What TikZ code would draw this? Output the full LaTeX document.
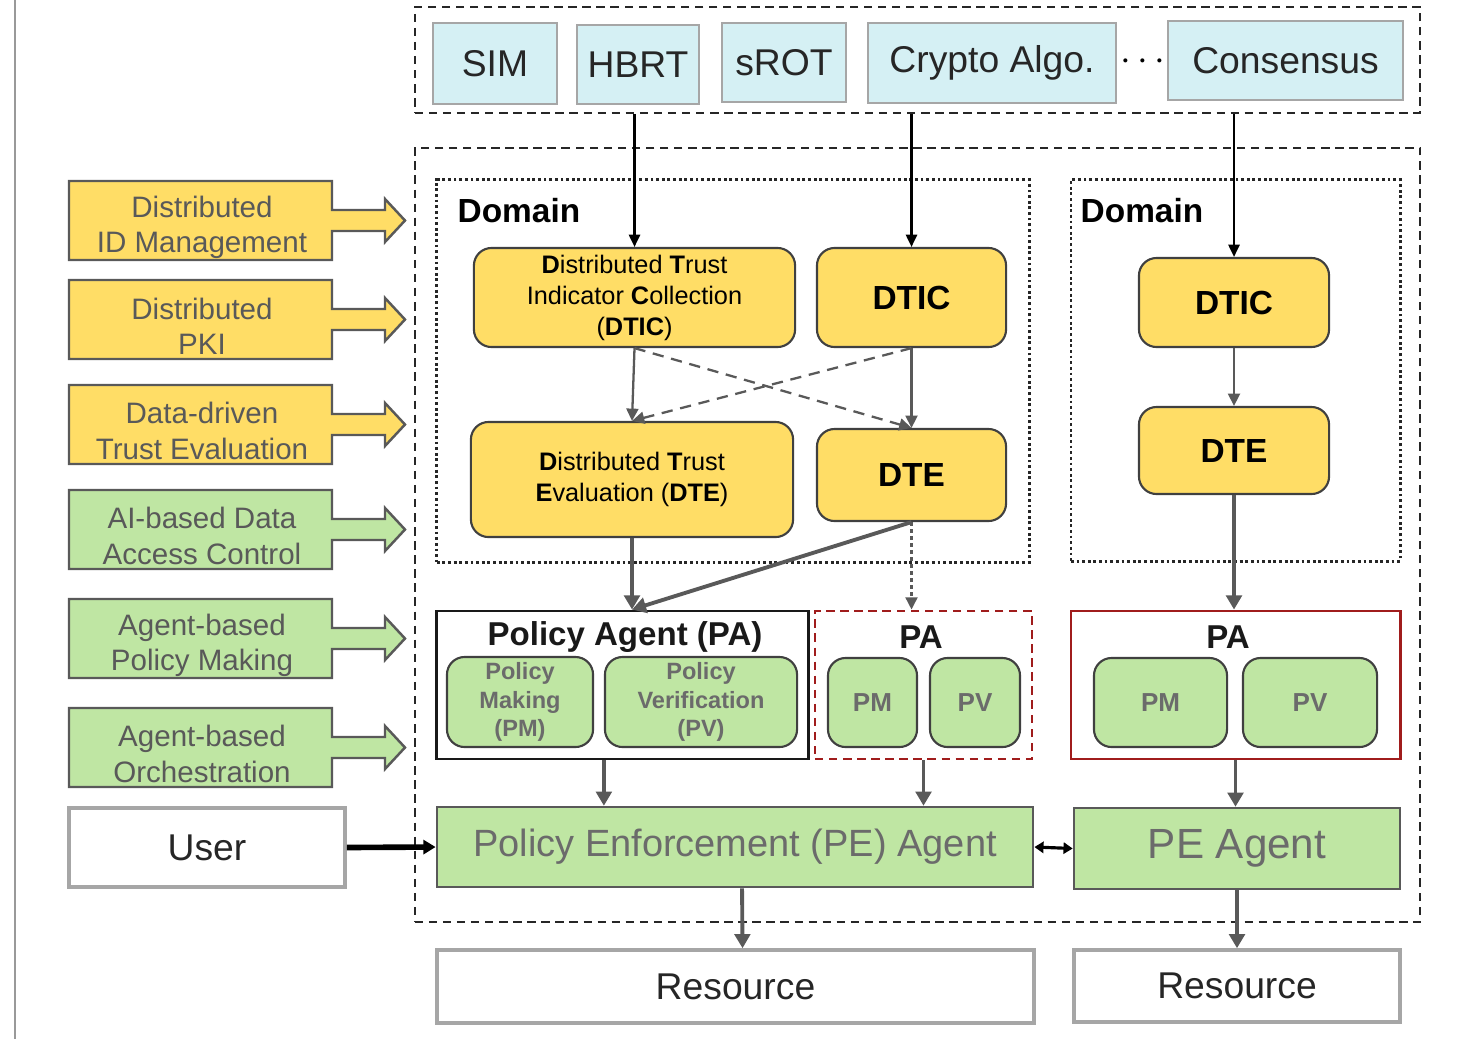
\documentclass[tikz,border=0pt]{standalone}
\usepackage{fontspec}
\setmainfont{Liberation Sans}
\usetikzlibrary{arrows.meta}
\definecolor{techblue}{HTML}{D5F0F4}
\definecolor{trustyellow}{HTML}{FFDD66}
\definecolor{agentgreen}{HTML}{BFE6A3}
\definecolor{edgegray}{HTML}{595959}
\definecolor{textgray}{HTML}{6B6B6B}
\definecolor{domainred}{HTML}{A01C1C}
\newcommand\setfs[2]{\fontsize{#1}{#2}\selectfont}

\tikzset{
	techbox/.style={draw=black!35, fill=techblue, line width=0.7pt, inner sep=0pt, font=\setfs{10.6}{12}, text=black!85},
	trustbox/.style={draw=black!75, fill=trustyellow, line width=0.6pt, rounded corners=5pt, inner sep=0pt, align=center},
	agentbox/.style={draw=black!75, fill=agentgreen, line width=0.6pt, rounded corners=5pt, inner sep=0pt, align=center, text=textgray, font=\bfseries\setfs{6.7}{8.2}},
	pebox/.style={draw=black!65, fill=agentgreen, line width=0.7pt, inner sep=0pt, text=textgray},
	plainbox/.style={draw=black!35, line width=1pt, inner sep=0pt, text=black!85, font=\setfs{10.6}{12}},
	dashbox/.style={draw=black!85, line width=0.55pt, dash pattern=on 2.4pt off 1.6pt, inner sep=0pt},
	dotbox/.style={draw=black!85, line width=0.8pt, dash pattern=on 0.8pt off 0.8pt, inner sep=0pt},
	featbox/.style={draw=black!65, line width=0.7pt},
	feattext/.style={text=edgegray, align=center, font=\setfs{8.4}{10}},
	thinarrow/.style={line width=0.6pt, -{Triangle[length=3.5pt,width=3.2pt]}},
	grayarrow/.style={draw=edgegray, line width=0.65pt, -{Triangle[length=3.5pt,width=3.4pt]}},
	thickarrow/.style={draw=edgegray, line width=1.1pt, -{Triangle[length=4pt,width=4.4pt]}},
}

\begin{document}
\begin{tikzpicture}[x=0.01cm, y=-0.01cm]
			%%%%% START %%%%%
			
			\useasboundingbox (0,0) rectangle (1476,1039);
			\draw[black!40, line width=0.6pt] (15,0) -- (15,1039);
			
			\node[dashbox, minimum width=10.05cm, minimum height=1.06cm] (techrow) at (917.5,60) {};
			\node[dashbox, minimum width=10.05cm, minimum height=7.74cm] (mainarea) at (917.5,535) {};
			
			\node[techbox, minimum width=1.24cm, minimum height=0.81cm] (sim) at (495,63.5) {SIM};
			\node[techbox, minimum width=1.22cm, minimum height=0.79cm] (hbrt) at (638,64.5) {HBRT};
			\node[techbox, minimum width=1.24cm, minimum height=0.79cm] (srot) at (784,62.5) {sROT};
			\node[techbox, minimum width=2.48cm, minimum height=0.80cm] (crypto) at (992,63) {Crypto Algo.};
			\node[font=\setfs{10.6}{12}, inner sep=0pt] (dots) at (1143,62) {$\cdots$};
			\node[techbox, minimum width=2.35cm, minimum height=0.79cm] (consensus) at (1285.5,60.5) {Consensus};
			
			\node[dotbox, minimum width=5.92cm, minimum height=3.82cm] (domainL) at (733,371) {};
			\node[dotbox, minimum width=3.29cm, minimum height=3.81cm] (domainR) at (1235.5,370.5) {};
			\node[anchor=west, inner sep=0pt, font=\bfseries\setfs{9.5}{11}] (domainLlabel) at (457,211) {Domain};
			\node[anchor=west, inner sep=0pt, font=\bfseries\setfs{9.5}{11}] (domainRlabel) at (1080,211) {Domain};
			
			\node[trustbox, minimum width=3.21cm, minimum height=0.99cm, font=\setfs{7.2}{8.8}] (dticL) at (634.5,297.5) {\textbf{D}istributed \textbf{T}rust\\Indicator \textbf{C}ollection\\(\textbf{DTIC})};
			\node[trustbox, minimum width=1.89cm, minimum height=0.99cm, font=\bfseries\setfs{9.5}{11}] (dticS) at (911.5,297.5) {DTIC};
			\node[trustbox, minimum width=3.22cm, minimum height=1.15cm, font=\setfs{7.2}{8.8}] (dteL) at (632,479.5) {\textbf{D}istributed \textbf{T}rust\\\textbf{E}valuation (\textbf{DTE})};
			\node[trustbox, minimum width=1.89cm, minimum height=0.92cm, font=\bfseries\setfs{9.5}{11}] (dteS) at (911.5,475) {DTE};
			\node[trustbox, minimum width=1.90cm, minimum height=0.89cm, font=\bfseries\setfs{9.5}{11}] (dticR) at (1234,302.5) {DTIC};
			\node[trustbox, minimum width=1.90cm, minimum height=0.87cm, font=\bfseries\setfs{9.5}{11}] (dteR) at (1234,450.5) {DTE};
			
			\node[draw=black!90, line width=0.8pt, minimum width=3.71cm, minimum height=1.48cm] (paL) at (622.5,685) {};
			\node[draw=domainred, line width=0.8pt, dash pattern=on 2.4pt off 1.6pt, minimum width=2.17cm, minimum height=1.48cm] (paM) at (923.5,685) {};
			\node[draw=domainred, line width=0.8pt, minimum width=3.29cm, minimum height=1.48cm] (paR) at (1235.5,685) {};
			\node[font=\bfseries\setfs{9.4}{11}, text=black!90] (paLtitle) at (625,637) {Policy Agent (PA)};
			\node[font=\bfseries\setfs{9.4}{11}, text=black!90] (paMtitle) at (921,637) {PA};
			\node[font=\bfseries\setfs{9.4}{11}, text=black!90] (paRtitle) at (1228,637) {PA};
			
			\node[agentbox, minimum width=1.46cm, minimum height=0.90cm] (pmL) at (520,702) {Policy\\Making\\(PM)};
			\node[agentbox, minimum width=1.92cm, minimum height=0.90cm] (pvL) at (701,702) {Policy\\Verification\\(PV)};
			\node[agentbox, minimum width=0.89cm, minimum height=0.89cm, font=\bfseries\setfs{7.4}{9}] (pmM) at (872.5,702.5) {PM};
			\node[agentbox, minimum width=0.90cm, minimum height=0.89cm, font=\bfseries\setfs{7.4}{9}] (pvM) at (975,702.5) {PV};
			\node[agentbox, minimum width=1.33cm, minimum height=0.89cm, font=\bfseries\setfs{7.4}{9}] (pmR) at (1160.5,702.5) {PM};
			\node[agentbox, minimum width=1.34cm, minimum height=0.89cm, font=\bfseries\setfs{7.4}{9}] (pvR) at (1310,702.5) {PV};
			
			\node[pebox, minimum width=5.96cm, minimum height=0.80cm, font=\setfs{10.8}{12}] (peL) at (735,847) {Policy Enforcement (PE) Agent};
			\node[pebox, minimum width=3.26cm, minimum height=0.81cm, font=\setfs{12}{14}] (peR) at (1237,848.5) {PE Agent};
			\node[plainbox, minimum width=2.76cm, minimum height=0.79cm] (user) at (207,847.5) {User};
			\node[plainbox, minimum width=5.97cm, minimum height=0.73cm] (resL) at (735.5,986.5) {Resource};
			\node[plainbox, minimum width=3.26cm, minimum height=0.72cm] (resR) at (1237,986) {Resource};
			
			\foreach \yt/\col/\txt [count=\i] in {181/trustyellow/{Distributed\\ID Management}, 280/trustyellow/{Distributed\\PKI}, 385/trustyellow/{Data-driven\\Trust Evaluation}, 490/agentgreen/{AI-based Data\\Access Control}, 599/agentgreen/{Agent-based\\Policy Making}, 708/agentgreen/{Agent-based\\Orchestration}} {
				\draw[featbox, fill=\col] (69,\yt) -- (332,\yt) -- (332,\yt+29) -- (385,\yt+29) -- (385,\yt+18) -- (405,\yt+39.5) -- (385,\yt+61) -- (385,\yt+50) -- (332,\yt+50) -- (332,\yt+79) -- (69,\yt+79) -- cycle;
				\node[feattext] (feat\i) at (202,\yt+46) {\txt};
			}
			
			\draw[thinarrow] (dticL.north |- techrow.south) -- (dticL.north);
			\draw[thinarrow] (dticS.north |- techrow.south) -- (dticS.north);
			\draw[thinarrow] (dticR.north |- techrow.south) -- (dticR.north);
			
			\draw[grayarrow] (dticL.south) -- (dteL.north);
			\draw[grayarrow] (dticS.south) -- (dteS.north);
			\draw[grayarrow] (dticR.south) -- (dteR.north);
			\draw[grayarrow, dash pattern=on 3.2pt off 2.2pt] (dticL.south) -- (dteS.north);
			\draw[grayarrow, dash pattern=on 3.2pt off 2.2pt] (dticS.south) -- (dteL.north);
			
			\draw[thickarrow] (dteL.south) -- (dteL.south |- paL.north);
			\draw[thickarrow] (dteS.south) -- (dteL.south |- paL.north);
			\draw[grayarrow, dash pattern=on 1pt off 1pt] (dteS.south) -- (dteS.south |- paM.north);
			\draw[thickarrow] (dteR.south) -- (dteR.south |- paR.north);
			
			\draw[thickarrow] (pvL.west |- paL.south) -- (pvL.west |- peL.north);
			\draw[thickarrow] (paM.south) -- (paM.south |- peL.north);
			\draw[thickarrow] (paR.south) -- (paR.south |- peR.north);
			
			\draw[line width=1.6pt, -{Triangle[length=3.5pt,width=4pt]}] (user.east) -- (peL.west);
			\draw[line width=0.9pt, {Triangle[length=2.6pt,width=3.2pt]}-{Triangle[length=2.6pt,width=3.2pt]}] (peL.east) -- (peR.west);
			
			\draw[thickarrow] ([xshift=2pt]peL.south) -- ([xshift=2pt]resL.north);
			\draw[thickarrow] (peR.south) -- (resR.north);
			
			%%%%% END %%%%%
		\end{tikzpicture}
\end{document}
